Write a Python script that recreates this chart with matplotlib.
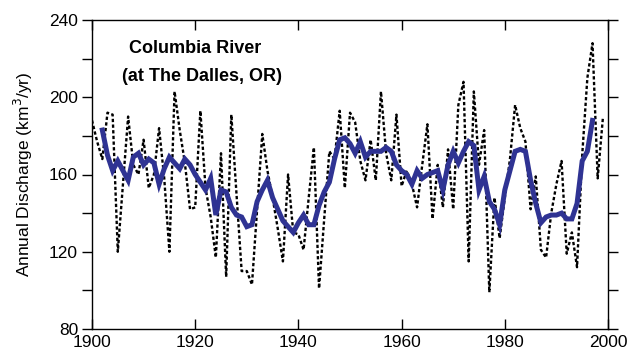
'''
Columbia River annual discharge at The Dalles, with smoothed curve
'''

import numpy as np
import matplotlib.pyplot as plt

plt.rcParams['font.family'] = ['Liberation Sans', 'DejaVu Sans']

# annual discharge (km3/yr)
years = np.arange(1900, 2000)
annual = [188, 177, 168, 192, 191, 120, 155, 190, 165, 160,
          178, 153, 160, 184, 158, 120, 203, 183, 166, 142,
          143, 193, 153, 138, 117, 171, 107, 191, 150, 110,
          110, 103, 142, 181, 162, 148, 132, 115, 160, 130,
          129, 121, 148, 174, 101, 137, 172, 168, 193, 153,
          192, 187, 167, 157, 178, 157, 203, 171, 157, 191,
          154, 162, 155, 143, 165, 186, 137, 165, 143, 173,
          142, 196, 208, 115, 203, 165, 183, 99, 148, 127,
          148, 168, 196, 184, 177, 142, 159, 121, 117, 140,
          155, 167, 119, 130, 112, 170, 210, 228, 158, 189]

# smoothed curve (1902-1997)
smooth_years = np.arange(1902, 1998)
smooth = [183, 170, 162, 167, 162, 157, 169, 171,
          165, 168, 166, 155, 163, 169, 166, 163, 168, 165,
          160, 156, 152, 158, 139, 152, 151, 143, 139, 138,
          133, 134, 146, 152, 157, 148, 142, 136, 133, 130,
          135, 139, 134, 134, 144, 151, 156, 168, 178, 179,
          176, 171, 177, 169, 172, 172, 172, 174, 172, 165,
          162, 160, 155, 162, 158, 160, 161, 162, 152, 165,
          172, 166, 172, 177, 175, 152, 159, 146, 142, 134,
          152, 162, 172, 173, 172, 157, 145, 135, 138, 139,
          139, 140, 137, 137, 145, 167, 172, 188]

fig = plt.figure(figsize=(6.28, 3.53), dpi=100)
ax = fig.add_axes([92 / 628, 1 - 329 / 353, 516 / 628, 309 / 353])

ax.plot(years, annual, color='black', lw=1.7, linestyle=(0, (1.4, 1.0)))
ax.plot(smooth_years, smooth, color='#2f3393', lw=3.6, solid_joinstyle='miter')

ax.set_xlim(1900, 2000)
ax.set_ylim(80, 240)
ax.set_xticks(np.arange(1900, 2001, 20))
ax.set_yticks(np.arange(80, 241, 40))
ax.set_yticks(np.arange(80, 241, 20), minor=True)

ax.tick_params(axis='x', direction='in', top=True, length=7, width=1, labelsize=12.5, pad=4)
ax.tick_params(axis='y', which='both', direction='out', right=True, length=7, width=1, labelsize=12.5, pad=3)
for s in ax.spines.values():
    s.set_linewidth(1)

ax.set_ylabel('Annual Discharge (km$^3$/yr)', fontsize=12.5, labelpad=10)

ax.text(1920, 225.5, 'Columbia River', fontsize=13, fontweight='bold', ha='center', va='center')
ax.text(1921.3, 211, '(at The Dalles, OR)', fontsize=13, fontweight='bold', ha='center', va='center')

plt.savefig('out.png', dpi=100)
plt.close()
